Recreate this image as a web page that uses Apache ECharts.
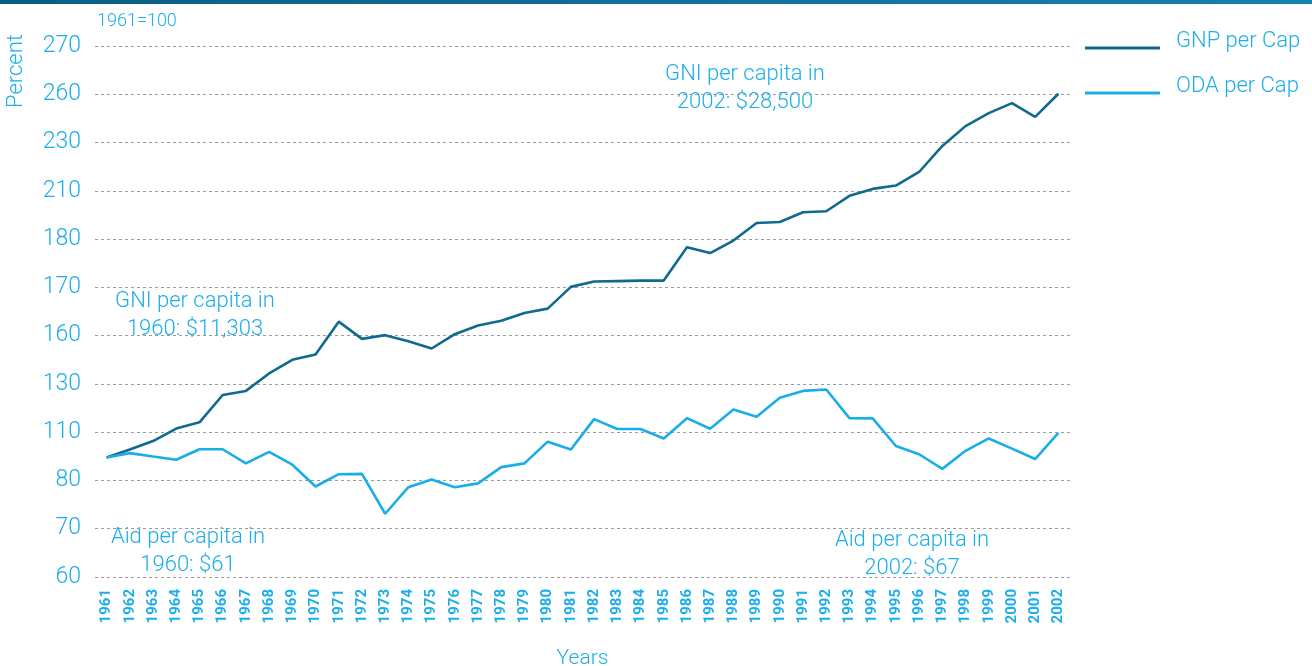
<!DOCTYPE html>
<html>
<head>
<meta charset="utf-8">
<script src="https://cdn.jsdelivr.net/npm/echarts@6/dist/echarts.min.js"></script>
<style>
html,body{margin:0;padding:0;background:#fff;}
#c{width:1312px;height:666px;}
</style>
</head>
<body>
<div id="c"></div>
<script>
// Data (Percent, 1961=100)
const years = ['1961','1962','1963','1964','1965','1966','1967','1968','1969','1970','1971','1972','1973','1974','1975','1976','1977','1978','1979','1980','1981','1982','1983','1984','1985','1986','1987','1988','1989','1990','1991','1992','1993','1994','1995','1996','1997','1998','1999','2000','2001','2002'];
const gnpPerCap = [94.3,99.2,104.5,111.5,114.1,125.4,127.1,136.5,145,148.3,162.9,158,160.1,156.5,152,160.3,162.1,163.1,164.7,165.6,170.1,171.2,171.3,171.4,171.4,178.3,177.1,179.7,190,190.6,196.7,197.3,206.9,210.8,212.2,217.8,228.6,240.2,248.3,254.5,246,260.1];
const odaPerCap = [94.3,97,94.9,92.9,99.4,99.4,90.6,97.8,89.8,78.75,83.9,84.1,73.1,78.6,80.6,78.6,79.4,88.3,90.6,104.1,99.2,115.4,111.3,111.3,106.1,115.8,111.4,119.4,116.4,124.3,127.1,127.7,115.8,115.7,101.4,96.3,87.2,98.4,106.1,99.8,93.3,109.6];
// Tick labels of the (unevenly labelled, evenly spaced) value axis
const yTickLabels = [60,70,80,110,130,160,170,180,210,230,260,270];

// map a percent value onto the evenly spaced tick positions
function toAxis(v){
  for(let i=0;i<yTickLabels.length-1;i++){
    const a=yTickLabels[i], b=yTickLabels[i+1];
    if(v<=b || i===yTickLabels.length-2){
      return i + (v-a)/(b-a);
    }
  }
}

const FONT = 'Roboto, "Liberation Sans", sans-serif';
const LIGHT = '#1aaee8';
const DARK = '#0f6a8e';
const TXT = '#1caeea';

const chart = echarts.init(document.getElementById('c'), null, {renderer:'canvas'});
chart.setOption({
  animation:false,
  backgroundColor:'#fff',
  textStyle:{fontFamily:FONT},
  grid:{left:95, top:46, width:975, height:531, containLabel:false, outerBoundsMode:'none'},
  legend:{
    orient:'vertical', left:1080, top:25,
    icon:'path://M0,0 L1,0 M0,14 L75,14 L75,17 L0,17 Z', itemWidth:75, itemHeight:17, itemGap:23,
    textStyle:{color:TXT, fontSize:22, fontFamily:FONT, fontWeight:300, padding:[0,0,0,11]},
    data:['GNP per Cap','ODA per Cap']
  },
  xAxis:{
    type:'category', data:years, boundaryGap:true,
    name:'Years', nameLocation:'middle', nameGap:71,
    nameTextStyle:{color:TXT, fontSize:21, fontWeight:300},
    axisLine:{show:false}, axisTick:{show:false},
    axisLabel:{rotate:90, interval:0, color:TXT, fontSize:15, fontWeight:'bold', margin:12}
  },
  yAxis:{
    type:'value', min:0, max:yTickLabels.length-1, interval:1,
    axisLine:{show:false}, axisTick:{show:false},
    axisLabel:{color:TXT, fontSize:23, fontWeight:300, margin:14,
      formatter:function(v){return yTickLabels[Math.round(v)];}},
    splitLine:{show:true, lineStyle:{color:'#9a9a9a', type:[3,3], width:1}}
  },
  series:[
    {name:'GNP per Cap', type:'line', data:gnpPerCap.map(toAxis), symbol:'none',
     lineStyle:{color:DARK, width:2.6}, itemStyle:{color:DARK}},
    {name:'ODA per Cap', type:'line', data:odaPerCap.map(toAxis), symbol:'none',
     lineStyle:{color:LIGHT, width:2.6}, itemStyle:{color:LIGHT}}
  ],
  graphic:[
    {type:'rect', left:0, top:0, shape:{width:1312, height:4},
     style:{fill:new echarts.graphic.LinearGradient(0,0,1,0,[{offset:0,color:'#0b5d82'},{offset:1,color:'#1780b3'}])}},
    {type:'text', x:5, y:108, rotation:Math.PI/2,
     style:{text:'Percent', fill:TXT, font:'300 22px '+FONT, align:'left', verticalAlign:'top'}},
    {type:'text', x:97, y:12, style:{text:'1961=100', fill:TXT, font:'300 18px '+FONT}},
    {type:'text', x:195, y:287, style:{text:'GNI per capita in\n1960: $11,303', fill:TXT, font:'300 22px '+FONT, align:'center', lineHeight:28}},
    {type:'text', x:188, y:523, style:{text:'Aid per capita in\n1960: $61', fill:TXT, font:'300 22px '+FONT, align:'center', lineHeight:28}},
    {type:'text', x:745, y:60, style:{text:'GNI per capita in\n2002: $28,500', fill:TXT, font:'300 22px '+FONT, align:'center', lineHeight:28}},
    {type:'text', x:912, y:526, style:{text:'Aid per capita in\n2002: $67', fill:TXT, font:'300 22px '+FONT, align:'center', lineHeight:28}}
  ]
});
</script>
</body>
</html>
